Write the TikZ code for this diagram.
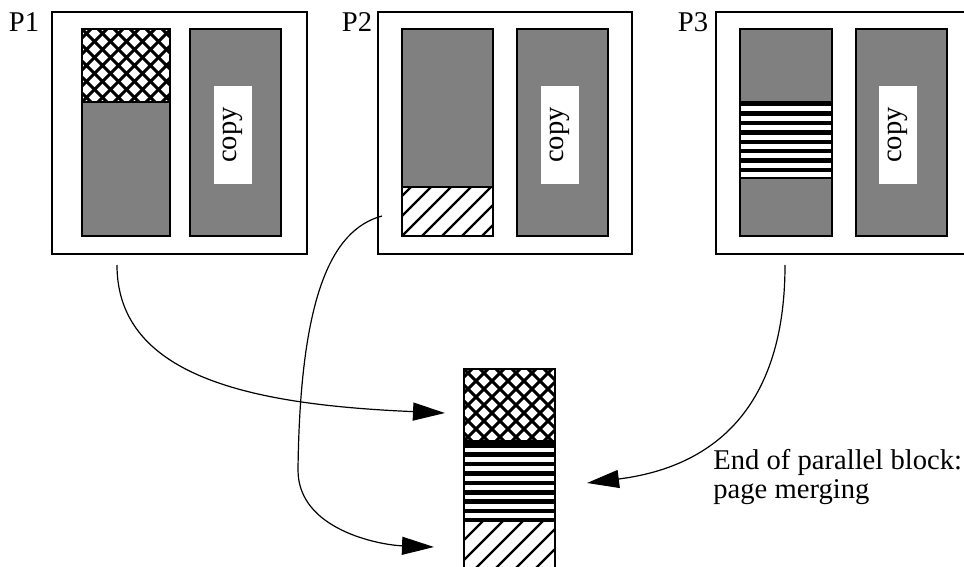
\documentclass[tikz,border=0pt]{standalone}
\usepackage{fontspec}
\setmainfont{Liberation Serif}
\usetikzlibrary{arrows.meta}

% patterned page blocks, corners given as x1 y1 x2 y2
\newcommand{\crossblock}[4]{%
  \begin{scope}
    \clip (#1,#2) rectangle (#3,#4);
    \fill[white] (#1,#2) rectangle (#3,#4);
    \foreach \d in {-128,-112,...,120}
      \draw[line width=1.5pt] ({#1+\d},#2) -- ++(130,130) ({#1+\d},#4) -- ++(130,-130);
  \end{scope}
  \draw[line width=0.7pt] (#1,#2) rectangle (#3,#4);
}
\newcommand{\hatchblock}[4]{%
  \begin{scope}
    \clip (#1,#2) rectangle (#3,#4);
    \fill[white] (#1,#2) rectangle (#3,#4);
    \foreach \d in {-120,-100,...,120}
      \draw[line width=1.1pt] ({#1+\d},#4) -- ++(130,-130);
  \end{scope}
  \draw[line width=0.7pt] (#1,#2) rectangle (#3,#4);
}
\newcommand{\stripeblock}[4]{%
  \begin{scope}
    \clip (#1,#2) rectangle (#3,#4);
    \fill[white] (#1,#2) rectangle (#3,#4);
    \foreach \k in {0,...,8}
      \fill ({#1},{#2+9.4*\k}) rectangle ({#3},{#2+9.4*\k+4.5});
  \end{scope}
  \draw[line width=0.8pt] (#1,#2) rectangle (#3,#4);
}

\begin{document}
\begin{tikzpicture}[x=0.5pt,y=-0.5pt,
    page/.style={draw,line width=0.6pt},
    pane/.style={draw,fill=gray,line width=0.6pt},
    copybox/.style={fill=white,rotate=90,minimum width=49pt,minimum height=19pt,inner sep=0pt},
    merge/.style={-{Triangle[length=16pt,width=9pt]},line width=0.6pt},
    every node/.style={font=\fontsize{14.3}{14.5}\selectfont}]
  \clip (0,0) rectangle (964,567);

  % the three processes
  \draw[page] (52,12) rectangle (307,254);
  \draw[pane] (82,29) rectangle (170,236);
  \draw[pane] (190,29) rectangle (281,236);
  \crossblock{82}{29}{170}{102}
  \node[copybox] (copy1) at (233,135) {copy};
  \node (P1) at (24,22) {P1};

  \draw[page] (378,12) rectangle (632,254);
  \draw[pane] (402,29) rectangle (493,236);
  \draw[pane] (517,29) rectangle (608,236);
  \hatchblock{402}{187}{493}{236}
  \node[copybox] (copy2) at (560,135) {copy};
  \node (P2) at (357,22) {P2};

  \draw[page] (716,12) rectangle (971,254);
  \draw[pane] (740,29) rectangle (832,236);
  \draw[pane] (856,29) rectangle (947,236);
  \stripeblock{740}{102}{832}{178}
  \node[copybox] (copy3) at (898,135) {copy};
  \node (P3) at (693,22) {P3};

  % merged page
  \crossblock{464}{369}{555}{441}
  \stripeblock{464}{443}{555}{519}
  \hatchblock{464}{521}{555}{600}

  \node[anchor=north west,align=left,inner sep=0pt] (note) at (713,449)
    {End of parallel block:\\page merging};

  % merging
  \coordinate (p1out) at (117,265);
  \coordinate (p2out) at (382,216);
  \coordinate (p3out) at (785,265);
  \coordinate (crossin) at (445,413);
  \coordinate (stripein) at (587,483);
  \coordinate (hatchin) at (434,547);
  \draw[merge] (p1out) .. controls (117,380) and (260,405) .. (crossin);
  \draw[merge] (p2out) .. controls (330,230) and (300,300) .. (298,470)
    .. controls (298,530) and (380,545) .. (hatchin);
  \draw[merge] (p3out) .. controls (785,430) and (690,470) .. (stripein);
\end{tikzpicture}
\end{document}
